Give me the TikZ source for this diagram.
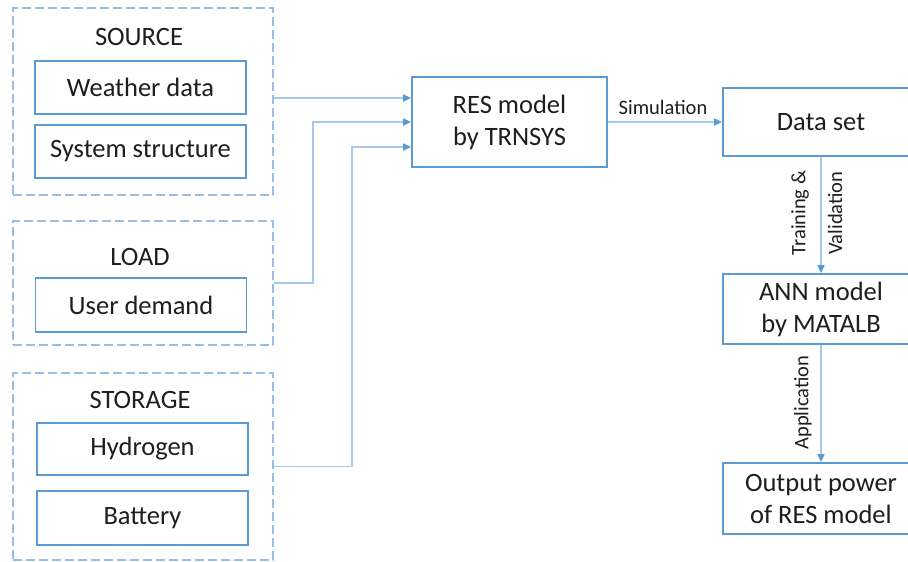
\documentclass[tikz,border=0pt]{standalone}
\usepackage{fontspec}
\setmainfont{Carlito}
\usetikzlibrary{arrows.meta,calc}
\definecolor{boxblue}{RGB}{91,155,213}
\definecolor{dashblue}{RGB}{150,190,230}
\definecolor{lineblue}{RGB}{165,200,235}
\definecolor{txt}{RGB}{30,30,30}
\begin{document}
\begin{tikzpicture}[x=1pt,y=-1pt,
  every node/.style={text=txt},
  group/.style={draw=dashblue, line width=2.5pt, dash pattern=on 9pt off 4pt, minimum width=260pt, inner sep=0pt},
  item/.style={draw=boxblue, line width=1.8pt, minimum width=211pt, minimum height=53pt, inner sep=0pt, font=\fontsize{26.5}{32}\selectfont},
  proc/.style={draw=boxblue, line width=1.8pt, minimum width=196pt, inner sep=0pt, align=center, font=\fontsize{26.5}{32}\selectfont},
  head/.style={inner sep=0pt, font=\fontsize{26.5}{32}\selectfont},
  lab/.style={inner sep=0pt, font=\fontsize{20.5}{24}\selectfont},
  conn/.style={draw=lineblue, line width=1.8pt, -{Triangle[length=8pt, width=7pt, color=boxblue]}}
]
\path[use as bounding box] (0,0) rectangle (908,562);
\clip (0,0) rectangle (908,562);
\fill[white] (0,0) rectangle (908,562);

% groups
\node[group, minimum height=187pt] (src) at (143,101.5) {};
\node[group, minimum height=124pt] (load) at (143,283) {};
\node[group, minimum height=187pt] (stor) at (143,466.5) {};

\node[head] (hsrc) at (139,37) {SOURCE};
\node[head] (hload) at (140,257) {LOAD};
\node[head] (hstor) at (140,400) {STORAGE};

\node[item] (wd) at (140.5,87.5) {Weather data};
\node[item] (ss) at (140.5,151.5) {System structure};
\node[item, minimum height=54pt] (ud) at (141,305) {User demand};
\node[item, minimum height=52pt] (hy) at (142.5,449) {Hydrogen};
\node[item, minimum height=54pt] (ba) at (142.5,518) {Battery};

% process boxes
\node[proc, minimum width=195pt, minimum height=90pt] (res) at (509.5,122) {RES model\\by TRNSYS};
\node[proc, minimum height=68pt] (ds) at (821,122) {Data set};
\node[proc, minimum height=70pt] (ann) at (821,309) {ANN model\\by MATALB};
\node[proc, minimum height=71pt] (out) at (821,498.5) {Output power\\of RES model};

% connectors
\coordinate (r1) at ([yshift=24pt]res.west);
\coordinate (r3) at ([yshift=-25pt]res.west);
\draw[conn] (src.east |- r1) -- (r1);
\draw[conn] (load.east) -- ++(39,0) |- (res.west);
\draw[conn] (stor.east) -- ++(78,0) |- (r3);
\draw[conn] (res.east) -- (ds.west);
\draw[conn] (ds.south) -- (ann.north);
\draw[conn] (ann.south) -- (out.north);

% labels
\node[lab] (lsim) at ($(res.east)!0.5!(ds.west)+(-2,-15)$) {Simulation};
\node[lab, rotate=90] (ltr) at ($(ds.south)!0.5!(ann.north)+(-21,-2)$) {Training \&};
\node[lab, rotate=90] (lval) at ($(ds.south)!0.5!(ann.north)+(14,-2)$) {Validation};
\node[lab, rotate=90] (lapp) at ($(ann.south)!0.5!(out.north)+(-18,-1)$) {Application};
\end{tikzpicture}
\end{document}
